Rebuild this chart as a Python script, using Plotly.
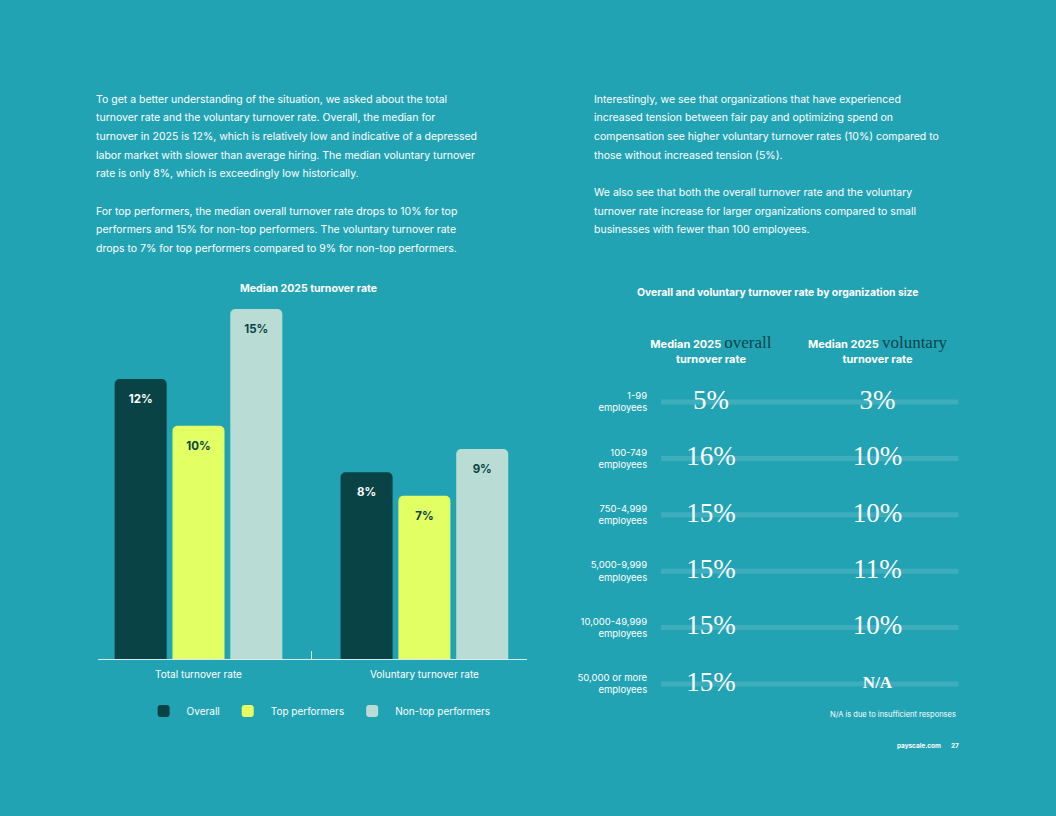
import plotly.graph_objects as go

W, H = 1056, 816
BG = "#22a3b4"
DARK = "#0a4346"
LINE = "#d6eef1"

# left chart data
groups = ["Total turnover rate", "Voluntary turnover rate"]
series = ["Overall", "Top performers", "Non-top performers"]
overall = [12, 8]
top_perf = [10, 7]
non_top = [15, 9]
bar_colors = [DARK, "#e2ff64", "#b9ddd4"]
label_colors = ["#ffffff", DARK, DARK]

# right chart data
sizes = ["1-99<br>employees", "100-749<br>employees", "750-4,999<br>employees",
         "5,000-9,999<br>employees", "10,000-49,999<br>employees",
         "50,000 or more<br>employees"]
size_overall = [5, 16, 15, 15, 15, 15]
size_voluntary = [3, 10, 10, 11, 10, None]
columns = ["overall", "voluntary"]

left_text = [
    "To get a better understanding of the situation, we asked about the total",
    "turnover rate and the voluntary turnover rate. Overall, the median for",
    "turnover in 2025 is 12%, which is relatively low and indicative of a depressed",
    "labor market with slower than average hiring. The median voluntary turnover",
    "rate is only 8%, which is exceedingly low historically.",
    "",
    "For top performers, the median overall turnover rate drops to 10% for top",
    "performers and 15% for non-top performers. The voluntary turnover rate",
    "drops to 7% for top performers compared to 9% for non-top performers.",
]
right_text = [
    "Interestingly, we see that organizations that have experienced",
    "increased tension between fair pay and optimizing spend on",
    "compensation see higher voluntary turnover rates (10%) compared to",
    "those without increased tension (5%).",
    "",
    "We also see that both the overall turnover rate and the voluntary",
    "turnover rate increase for larger organizations compared to small",
    "businesses with fewer than 100 employees.",
]


def px(x):
    return x / W


def py(y):
    return 1 - y / H


def note(x, y, text, size, anchor="left"):
    return dict(x=px(x), y=py(y), xref="paper", yref="paper", text=text,
                xanchor=anchor, yanchor="middle", showarrow=False,
                font=dict(family="Inter", size=size, color="white"))


fig = go.Figure()

for i, (name, vals) in enumerate(zip(series, [overall, top_perf, non_top])):
    fig.add_trace(go.Bar(
        x=[0, 1], y=vals, name=name,
        marker=dict(color=bar_colors[i], line=dict(width=0)),
        text=[f"<span style='font-size:4px'> </span><br><b>{v}%</b>" for v in vals],
        textposition="inside", insidetextanchor="end", textangle=0,
        textfont=dict(family="Inter", size=11.5, color=label_colors[i]),
        cliponaxis=False, hoverinfo="skip",
    ))

# size table: values as text on tracks
fig.add_trace(go.Scatter(
    x=[columns[0]] * len(sizes), y=sizes, mode="text",
    text=[f"{v}%" for v in size_overall],
    textfont=dict(family="Liberation Serif", size=27, color="white"),
    xaxis="x2", yaxis="y2", showlegend=False, hoverinfo="skip", cliponaxis=False,
))
fig.add_trace(go.Scatter(
    x=[columns[1]] * len(sizes), y=sizes, mode="text",
    text=[f"{v}%" if v is not None else "<b>N/A</b>" for v in size_voluntary],
    textfont=dict(family="Liberation Serif",
                  size=[27 if v is not None else 17 for v in size_voluntary],
                  color="white"),
    xaxis="x2", yaxis="y2", showlegend=False, hoverinfo="skip", cliponaxis=False,
))

for i in range(len(sizes)):
    fig.add_shape(type="line", xref="x2 domain", yref="y2",
                  x0=0.026, x1=0.994, y0=i, y1=i, layer="below",
                  line=dict(color="rgba(255,255,255,0.13)", width=5))

headers = [
    f"<b>Median 2025</b> <span style='font-family:Liberation Serif;color:#0c464b;font-size:17px'>{c}</span><br><b>turnover rate</b>"
    for c in columns
]

annotations = []
for i, line in enumerate(left_text):
    if line:
        annotations.append(note(91, 99 + 18.7 * i, line, 10.5))
for i, line in enumerate(right_text):
    if line:
        annotations.append(note(591, 99 + 18.7 * i, line, 10.5))

annotations += [
    note(306, 288, "<b>Median 2025 turnover rate</b>", 10.5, "center"),
    note(777, 292, "<b>Overall and voluntary turnover rate by organization size</b>", 10.4, "center"),
    note(958, 714, "N/A is due to insufficient responses", 7.5, "right"),
    note(943, 746, "<b>payscale.com</b>", 6.4, "right"),
    note(961, 746, "<b>27</b>", 6.4, "right"),
]

fig.update_layout(
    width=W, height=H,
    margin=dict(l=0, r=0, t=0, b=0),
    paper_bgcolor=BG, plot_bgcolor="rgba(0,0,0,0)",
    font=dict(family="Inter", color="white"),
    barmode="group", bargap=0.232, bargroupgap=0.1, barcornerradius=5,
    showlegend=True,
    legend=dict(orientation="h", x=px(316), y=py(711), xanchor="center", yanchor="middle",
                font=dict(family="Inter", size=10, color="white"),
                bgcolor="rgba(0,0,0,0)", traceorder="normal", itemwidth=36),
    xaxis=dict(domain=[px(95), px(525)], range=[-0.446, 1.452],
               tickmode="array", tickvals=[0, 1], ticktext=groups, ticks="",
               ticklabelstandoff=6,
               showgrid=False, zeroline=False, showline=True, linecolor=LINE, linewidth=1,
               tickfont=dict(family="Inter", size=10, color="white"),
               minor=dict(tickmode="array", tickvals=[0.5], ticks="inside", ticklen=8,
                          tickwidth=1, tickcolor=LINE, showgrid=False),
               fixedrange=True),
    yaxis=dict(domain=[py(659), py(659 - 16 * 23.33)], range=[0, 16],
               showgrid=False, zeroline=False, showticklabels=False, fixedrange=True),
    xaxis2=dict(domain=[px(652), px(960)], anchor="y2", side="top", type="category",
                categoryorder="array", categoryarray=columns, range=[-0.347, 1.497],
                tickmode="array", tickvals=columns, ticktext=headers, ticks="",
                ticklabelstandoff=8,
                showgrid=False, zeroline=False, showline=False,
                tickfont=dict(family="Inter", size=11, color="white"), fixedrange=True),
    yaxis2=dict(domain=[py(712.2), py(373.8)], anchor="x2", type="category",
                categoryorder="array", categoryarray=sizes, range=[5.5, -0.5],
                ticks="", showgrid=False, zeroline=False, showline=False,
                ticklabelstandoff=5,
                tickfont=dict(family="Inter", size=9.5, color="white"), fixedrange=True),
    annotations=annotations,
)

fig.write_html("out.html", config={"displayModeBar": False}, post_script=(
    "document.body.style.margin='0';"
    f"document.body.style.background='{BG}';"
))
